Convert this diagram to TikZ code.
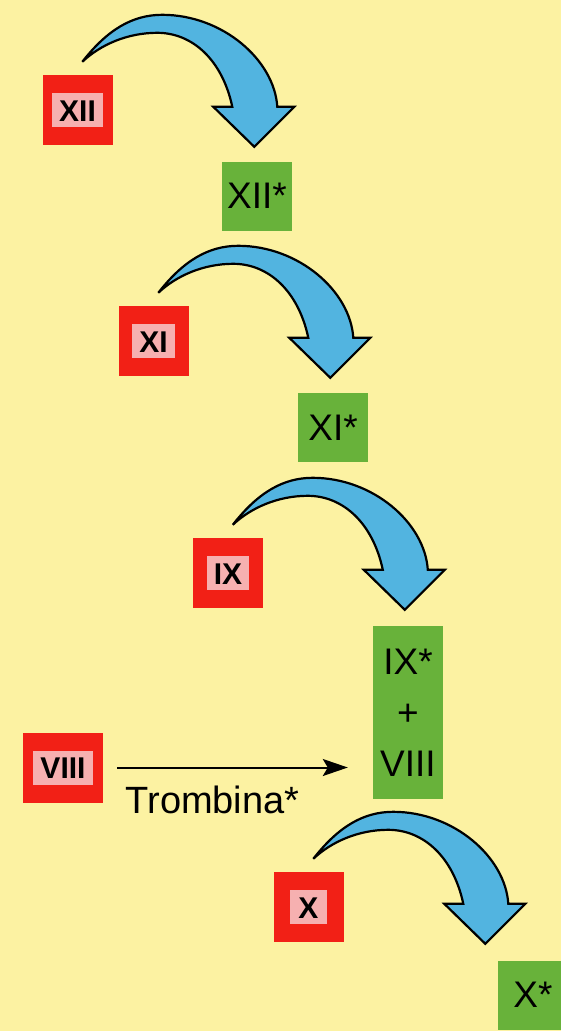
\documentclass[tikz,border=0pt]{standalone}
\usepackage{fontspec}
\setmainfont{Liberation Sans}
\usetikzlibrary{arrows.meta}

\definecolor{paper}{RGB}{252,242,162}
\definecolor{factorred}{RGB}{242,32,22}
\definecolor{labelpink}{RGB}{246,176,176}
\definecolor{activegreen}{RGB}{104,178,58}
\definecolor{swooshblue}{RGB}{82,180,224}

\tikzset{
  redbox/.style={fill=factorred, inner sep=0pt, minimum width=70pt, minimum height=70pt},
  pinklabel/.style={fill=labelpink, inner xsep=7pt, inner ysep=6pt, minimum width=37pt,
    text height=22pt, text depth=0pt, font=\fontsize{30}{36}\selectfont\bfseries},
  greenbox/.style={fill=activegreen, inner sep=0pt, minimum width=70pt, minimum height=69pt,
    font=\fontsize{37}{51}\selectfont},
  swooshline/.style={draw=black, line width=2.2pt, fill=swooshblue, line join=miter},
  thrombin/.style={line width=2pt, -{Stealth[length=25pt, width=17pt, inset=5pt]}},
  swoosh/.pic={
    \path[swooshline]
      (40,-13) .. controls (65,-45) and (90,-60) .. (120,-60)
      .. controls (180,-60) and (232,-15) .. (235,32)
      -- (252,32) -- (212,72) -- (171,32) -- (190,32)
      .. controls (180,-15) and (150,-42) .. (115,-42)
      .. controls (85,-42) and (58,-30) .. cycle;
  }
}

\begin{document}
\begin{tikzpicture}[x=1pt, y=-1pt]
  \useasboundingbox (0,0) rectangle (561,1031);
  \clip (0,0) rectangle (561,1031);
  \fill[paper] (0,0) rectangle (561,1031);

  % inactive factors (red) and their labels
  \node[redbox] (xii) at (77.5,110) {};
  \node[pinklabel] (xiilab) at (xii) {XII};
  \node[redbox] (xi) at (153.5,341) {};
  \node[pinklabel] (xilab) at (xi) {XI};
  \node[redbox] (ix) at (228,573) {};
  \node[pinklabel] (ixlab) at (ix) {IX};
  \node[redbox, minimum width=80pt] (viii) at (63,767.5) {};
  \node[pinklabel] (viiilab) at (viii) {VIII};
  \node[redbox] (x) at (308.5,907) {};
  \node[pinklabel] (xlab) at (x) {X};

  % activated factors (green)
  \node[greenbox] (xiia) at (257,196) {XII*};
  \node[greenbox] (xia) at (333,427.5) {XI*};
  \node[greenbox, minimum height=173pt] (ixa) at (408,712.5) {};
  \node[font=\fontsize{37}{51}\selectfont, align=center, inner sep=0pt] (ixatext) at (408,713) {IX*\\+\\VIII};
  \node[greenbox] (xa) at (533,995) {X*};

  % activation swooshes
  \pic at (xii.north west) {swoosh};
  \pic at (xi.north west) {swoosh};
  \pic at (ix.north west) {swoosh};
  \pic at (x.north west) {swoosh};

  % thrombin activation of factor VIII
  \draw[thrombin] ([xshift=14pt]viii.east) -- ([xshift=-25pt]ixa.west |- viii.east)
    node[pos=0, anchor=base west, xshift=4pt, yshift=-46pt, font=\fontsize{38}{44}\selectfont] (trlabel) {Trombina*};
\end{tikzpicture}
\end{document}
